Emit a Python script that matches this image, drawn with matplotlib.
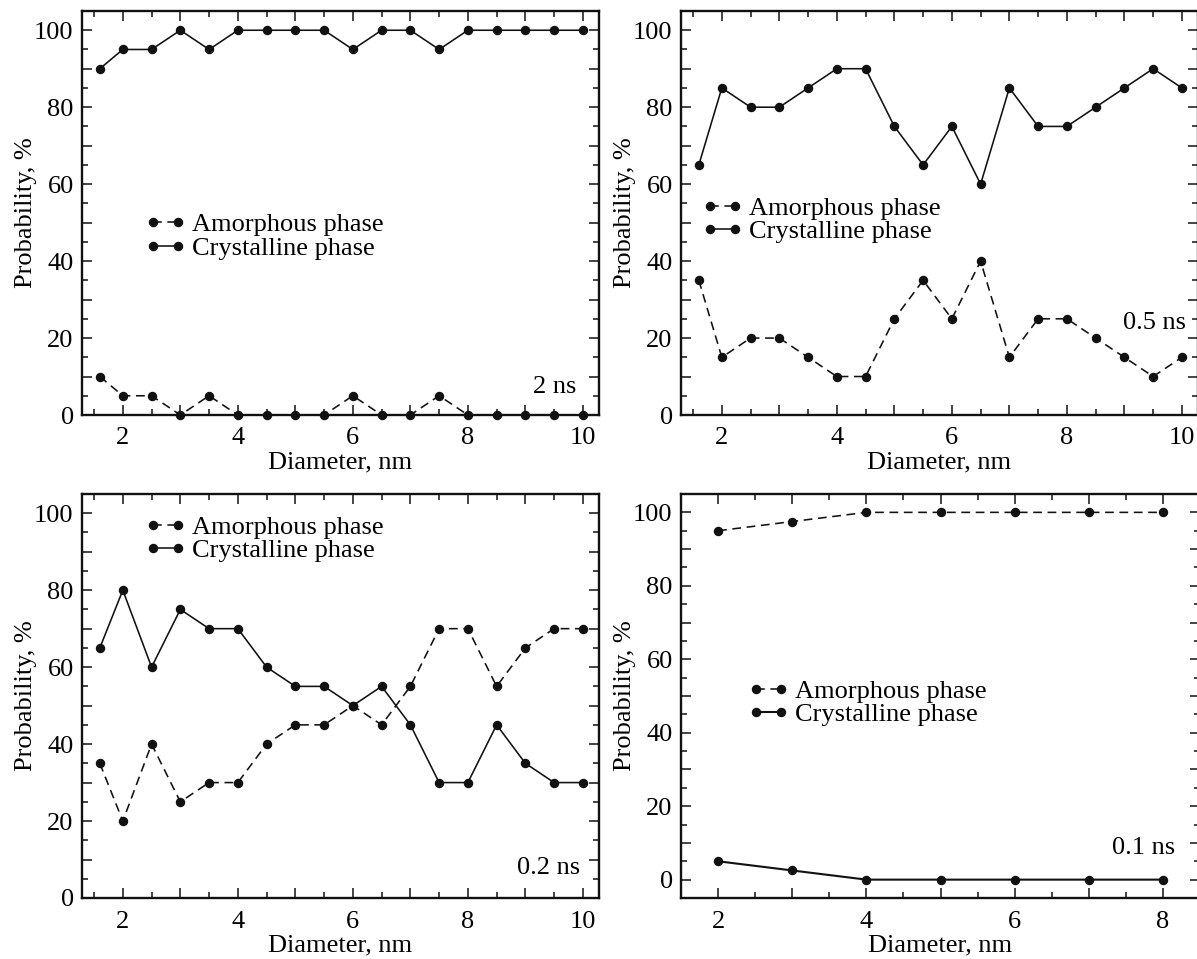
import matplotlib.pyplot as plt
from matplotlib.ticker import MultipleLocator, FuncFormatter

#font is a Times-like serif in the original
plt.rcParams['font.family'] = ['Liberation Serif', 'DejaVu Serif']

#diameters used for the 2 ns, 0.5 ns and 0.2 ns runs
diam = [1.6, 2, 2.5, 3, 3.5, 4, 4.5, 5, 5.5, 6, 6.5, 7, 7.5, 8, 8.5, 9, 9.5, 10]
#diameters for the 0.1 ns run
diam_01 = [2, 3, 4, 5, 6, 7, 8]

amorph_2ns = [10, 5, 5, 0, 5, 0, 0, 0, 0, 5, 0, 0, 5, 0, 0, 0, 0, 0]
cryst_2ns = [90, 95, 95, 100, 95, 100, 100, 100, 100, 95, 100, 100, 95, 100, 100, 100, 100, 100]

amorph_05ns = [35, 15, 20, 20, 15, 10, 10, 25, 35, 25, 40, 15, 25, 25, 20, 15, 10, 15]
cryst_05ns = [65, 85, 80, 80, 85, 90, 90, 75, 65, 75, 60, 85, 75, 75, 80, 85, 90, 85]

amorph_02ns = [35, 20, 40, 25, 30, 30, 40, 45, 45, 50, 45, 55, 70, 70, 55, 65, 70, 70]
cryst_02ns = [65, 80, 60, 75, 70, 70, 60, 55, 55, 50, 55, 45, 30, 30, 45, 35, 30, 30]

amorph_01ns = [95, 97.5, 100, 100, 100, 100, 100]
cryst_01ns = [5, 2.5, 0, 0, 0, 0, 0]

labels = ['Amorphous phase', 'Crystalline phase']
time_labels = ['2 ns', '0.5 ns', '0.2 ns', '0.1 ns']

W, H = 1197, 959
fig = plt.figure(figsize=(W / 100, H / 100), dpi=100)

#axes boxes in pixels: left, right, top, bottom
boxes = [(82, 599, 11, 415), (681, 1198, 11, 415), (82, 599, 494, 898), (681, 1200, 494, 898)]
xlims = [(1.29, 10.28), (1.29, 10.28), (1.29, 10.28), (1.5, 8.5)]
ylims = [(0, 105), (0, 105), (0, 105), (-5, 105)]
xdata = [diam, diam, diam, diam_01]
amorph = [amorph_2ns, amorph_05ns, amorph_02ns, amorph_01ns]
cryst = [cryst_2ns, cryst_05ns, cryst_02ns, cryst_01ns]
#legend anchor (axes fraction) and time label spot
leg_pos = [(0.122, 0.442), (0.041, 0.483), (0.122, 0.889), (0.129, 0.483)]
txt_pos = [(0.957, 0.070), (0.977, 0.228), (0.963, 0.074), (0.952, 0.124)]

fs = 19
col = '#111111'


def even_only(v, p):
    if abs(v - round(v)) < 1e-6 and int(round(v)) % 2 == 0:
        return str(int(round(v)))
    return ''


def twenty_only(v, p):
    if abs(v - round(v)) < 1e-6 and int(round(v)) % 20 == 0:
        return str(int(round(v)))
    return ''


for i in range(4):
    l, r, t, b = boxes[i]
    ax = fig.add_axes([l / W, (H - b) / H, (r - l) / W, (b - t) / H])
    ax.plot(xdata[i], amorph[i], color=col, lw=1.15, dashes=(5.5, 3.5), marker='o',
            ms=5.8, label=labels[0], clip_on=False)
    ax.plot(xdata[i], cryst[i], color=col, lw=1.15 if i < 3 else 1.5, marker='o',
            ms=5.8, label=labels[1], clip_on=False)
    ax.set_xlim(xlims[i])
    ax.set_ylim(ylims[i])

    ax.xaxis.set_major_locator(MultipleLocator(1))
    ax.xaxis.set_minor_locator(MultipleLocator(0.5))
    ax.yaxis.set_major_locator(MultipleLocator(10))
    ax.yaxis.set_minor_locator(MultipleLocator(5))
    ax.xaxis.set_major_formatter(FuncFormatter(even_only))
    ax.yaxis.set_major_formatter(FuncFormatter(twenty_only))
    ax.tick_params(which='both', direction='in', top=True, right=True,
                   labelsize=fs, color=col, width=1.1)
    ax.tick_params(which='major', length=7)
    ax.tick_params(which='minor', length=4.5)
    ax.tick_params(axis='x', pad=9)
    ax.tick_params(axis='y', pad=6)
    for s in ax.spines.values():
        s.set_linewidth(1.7)
        s.set_color(col)

    ax.set_xlabel('Diameter, nm', fontsize=fs)
    ax.set_ylabel('Probability, %', fontsize=fs)
    ax.xaxis.set_label_coords(0.5, -0.091)
    ax.yaxis.set_label_coords(-0.087, 0.5)

    ax.legend(loc='center left', bbox_to_anchor=leg_pos[i], frameon=False,
              fontsize=fs, handlelength=1.55, handletextpad=0.22,
              labelspacing=0.0, borderpad=0, borderaxespad=0, numpoints=2)
    ax.text(txt_pos[i][0], txt_pos[i][1], time_labels[i], transform=ax.transAxes,
            ha='right', va='center', fontsize=fs)

plt.savefig('out.png', dpi=100)
